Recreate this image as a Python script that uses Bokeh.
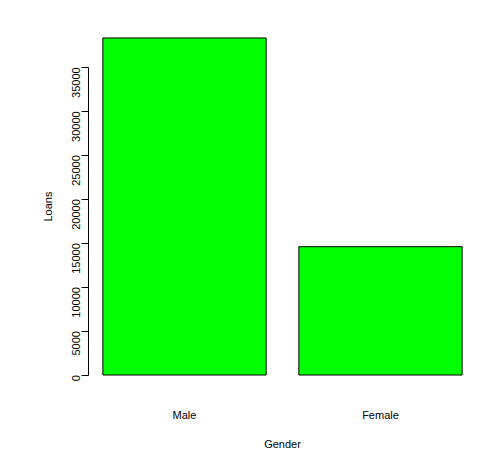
import math
from bokeh.plotting import figure
from bokeh.models import FixedTicker, Range1d, ColumnDataSource
from bokeh.embed import file_html
from bokeh.resources import INLINE

genders = ["Male", "Female"]
loans = [38340, 14600]
yticks = [0, 5000, 10000, 15000, 20000, 25000, 30000, 35000]

xc = [0.7, 1.9]
src = ColumnDataSource(dict(x=xc, top=loans))
ymax = max(loans)
p = figure(width=488, height=452, output_backend="svg", toolbar_location=None,
           x_range=Range1d(0.112, 2.488), y_range=Range1d(-0.04*ymax, 1.04*ymax),
           min_border_left=88, min_border_right=12, min_border_top=24, min_border_bottom=58)
p.vbar(x="x", top="top", bottom=0, width=1.0, source=src,
       fill_color="#00ff00", line_color="black", line_width=1)
p.grid.visible = False
p.outline_line_color = None
p.background_fill_color = "white"

ya = p.yaxis[0]
ya.ticker = FixedTicker(ticks=yticks)
ya.bounds = (0, 35000)
ya.major_label_orientation = math.pi/2
ya.minor_tick_line_color = None
ya.major_tick_out = 7
ya.major_tick_in = 0
ya.axis_label = "Loans"
xa = p.xaxis[0]
xa.ticker = FixedTicker(ticks=xc)
xa.major_label_overrides = {xc[i]: genders[i] for i in range(2)}
xa.axis_line_color = None
xa.major_tick_line_color = None
xa.minor_tick_line_color = None
xa.major_label_standoff = 14
xa.axis_label = "Gender"
xa.axis_label_standoff = 14
ya.axis_label_standoff = 12
for a in (xa, ya):
    a.axis_label_text_font_style = "normal"
    a.axis_label_text_font_size = "11px"
    a.major_label_text_font_size = "11px"
    a.axis_label_text_font = "Liberation Sans"
    a.major_label_text_font = "Liberation Sans"
    a.axis_label_text_color = "black"
    a.major_label_text_color = "black"
ya.axis_line_color = "black"
ya.major_tick_line_color = "black"

open("out.html", "w").write(file_html(p, INLINE))
